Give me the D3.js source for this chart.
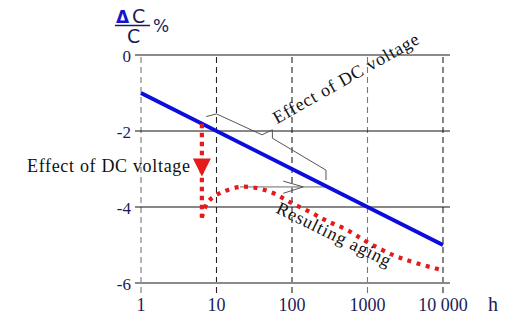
<!DOCTYPE html>
<html><head><meta charset="utf-8">
<script src="https://cdn.jsdelivr.net/npm/d3@7"></script>
<style>body{margin:0;background:#fff}svg{display:block}</style>
</head><body>
<svg id="c" width="512" height="327"></svg>
<script>
// ---- data ----
const xTicks = [1, 10, 100, 1000, 10000];
const xTickLabels = ["1", "10", "100", "1000", "10 000"];
const yTicks = [0, -2, -4, -6];
const yTickLabels = ["0", "-2", "-4", "-6"];
const dcHours = [1, 10000];
const dcValues = [-1, -5];
const dropHours = [6.4, 6.4];
const dropValues = [-1.81, -4.28];
const agingHours = [6.4, 7.5, 9, 12.2, 20.5, 34, 56, 94, 180, 300, 532, 983, 2160, 4000, 9600];
const agingValues = [-4.28, -3.9, -3.74, -3.6, -3.47, -3.5, -3.63, -3.87, -4.15, -4.38, -4.6, -4.92, -5.26, -5.45, -5.66];
const braceHours = [7.3, 10, 40, 55, 55, 282, 282];
const braceValues = [-1.62, -1.55, -2.1, -1.97, -2.19, -3.03, -3.29];
const arrowHours = [20.5, 282];
const arrowValues = [-3.47, -3.47];

const svg = d3.select("#c");
const x = d3.scaleLog().domain([1, 10000]).range([141, 443]);
const y = d3.scaleLinear().domain([0, -6]).range([55, 283]);
const navy = "#1c1c58";

// vertical dashed grid
xTicks.forEach((t, i) => {
  svg.append("line").attr("x1", x(t)).attr("x2", x(t)).attr("y1", y(0) + 2).attr("y2", y(-6) + 10)
    .attr("stroke", (i === 0 || i === 3) ? "#777" : "#222").attr("stroke-width", 1.1)
    .attr("stroke-dasharray", "6,4");
});
// horizontal grid
yTicks.forEach(t => {
  const edge = (t === 0 || t === -6);
  svg.append("line").attr("x1", 135).attr("x2", 450).attr("y1", y(t)).attr("y2", y(t))
    .attr("stroke", edge ? "#8a8a8a" : "#111").attr("stroke-width", edge ? 2.2 : 1);
});
// y tick labels
yTicks.forEach((t, i) => {
  svg.append("text").attr("x", 131).attr("y", y(t) + 7).attr("text-anchor", "end")
    .attr("font-family", "Liberation Serif").attr("font-size", 17).attr("fill", navy).text(yTickLabels[i]);
});
// x tick labels
xTicks.forEach((t, i) => {
  svg.append("text").attr("x", x(t)).attr("y", 311).attr("text-anchor", "middle")
    .attr("font-family", "Liberation Serif").attr("font-size", 18).attr("fill", navy).text(xTickLabels[i]);
});
svg.append("text").attr("x", 488).attr("y", 311).attr("font-family", "Liberation Serif")
  .attr("font-size", 20).attr("fill", navy).text("h");

// y axis title ΔC / C %
svg.append("text").attr("x", 116).attr("y", 23).attr("font-family", "DejaVu Sans").attr("font-weight", "bold")
  .attr("font-size", 17).attr("fill", "#1515c8").text("Δ");
svg.append("text").attr("x", 132).attr("y", 23).attr("font-family", "DejaVu Sans")
  .attr("font-size", 19).attr("fill", navy).text("C");
svg.append("line").attr("x1", 115).attr("x2", 150).attr("y1", 25.5).attr("y2", 25.5).attr("stroke", navy).attr("stroke-width", 1.6);
svg.append("text").attr("x", 127).attr("y", 43).attr("font-family", "DejaVu Sans")
  .attr("font-size", 19).attr("fill", navy).text("C");
svg.append("text").attr("x", 153).attr("y", 32).attr("font-family", "DejaVu Sans")
  .attr("font-size", 17).attr("fill", navy).text("%");

// annotation brace & arrow
const lineGen = d3.line().x(d => x(d[0])).y(d => y(d[1]));
svg.append("path").attr("d", lineGen(d3.zip(braceHours, braceValues)))
  .attr("fill", "none").attr("stroke", "#555").attr("stroke-width", 1);
svg.append("path").attr("d", lineGen(d3.zip(arrowHours, arrowValues)))
  .attr("fill", "none").attr("stroke", "#aaa").attr("stroke-width", 1.6);
const tipH = 141, wingH = 76.7;
svg.append("path").attr("d", lineGen([[wingH, -3.32], [tipH, -3.47], [wingH, -3.64]]))
  .attr("fill", "none").attr("stroke", "#555").attr("stroke-width", 1);

// blue DC line
svg.append("path").attr("d", lineGen(d3.zip(dcHours, dcValues)))
  .attr("fill", "none").attr("stroke", "#0c0cdc").attr("stroke-width", 4);

// red drop + aging curve
const red = "#e51a1a";
svg.append("path").attr("d", lineGen(d3.zip(dropHours, dropValues)))
  .attr("fill", "none").attr("stroke", red).attr("stroke-width", 4.2).attr("stroke-dasharray", "4.5,4.5");
const curveGen = d3.line().x(d => x(d[0])).y(d => y(d[1])).curve(d3.curveCatmullRom.alpha(0.5));
svg.append("path").attr("d", curveGen(d3.zip(agingHours, agingValues)))
  .attr("fill", "none").attr("stroke", red).attr("stroke-width", 4.2).attr("stroke-dasharray", "4,5.5");
// arrow head
const ax = x(dropHours[0]), ay = y(-3.2);
svg.append("path").attr("d", `M${ax - 9},${ay - 18}L${ax + 9},${ay - 18}L${ax},${ay}Z`).attr("fill", red);

// texts
svg.append("text").attr("x", 190).attr("y", 171.5).attr("text-anchor", "end")
  .attr("font-family", "Liberation Serif").attr("font-size", 18).attr("fill", "#111")
  .attr("textLength", 163).attr("lengthAdjust", "spacing").text("Effect of DC voltage");
svg.append("text").attr("transform", `translate(${x(63.2)},${y(-1.82)}) rotate(-29.5)`)
  .attr("font-family", "Liberation Serif").attr("font-size", 18).attr("fill", "#111")
  .attr("textLength", 165).attr("lengthAdjust", "spacing").text("Effect of DC voltage");
svg.append("text").attr("transform", `translate(${x(59.6)},${y(-4.14)}) rotate(26)`)
  .attr("font-family", "Liberation Serif").attr("font-size", 18).attr("fill", "#111")
  .attr("textLength", 125).attr("lengthAdjust", "spacing").text("Resulting aging");
</script>
</body></html>
